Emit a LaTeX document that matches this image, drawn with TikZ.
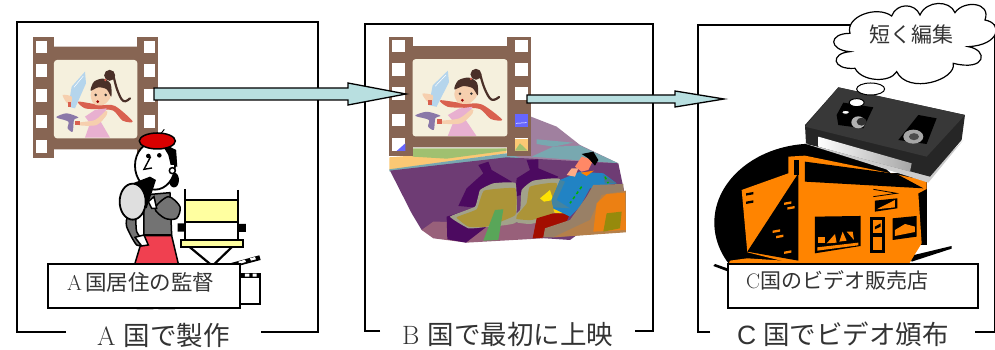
\documentclass[tikz,border=0pt]{standalone}
\usepackage{fontspec}
\newfontfamily\cjk{Noto Sans CJK JP}
\setsansfont{Liberation Sans}
\definecolor{filmbrown}{HTML}{876553}
\definecolor{cream}{HTML}{F5F0DD}
\definecolor{arrowfill}{HTML}{B8DFE0}
\definecolor{inkgrey}{HTML}{333333}
\definecolor{shoporange}{HTML}{FF8400}
\definecolor{seatgrey}{HTML}{A2A28A}
\definecolor{seatolive}{HTML}{AC9438}
\definecolor{darkpurple}{HTML}{4C0A60}
\definecolor{mainpurple}{HTML}{6E3C74}
\definecolor{mauve}{HTML}{A0809F}
\definecolor{lowmauve}{HTML}{98607A}
\definecolor{tealband}{HTML}{78A8B0}
\definecolor{bandorange}{HTML}{FBC874}
\definecolor{bandgreen}{HTML}{A0C070}
\definecolor{scarf}{HTML}{D9604F}
\definecolor{dress}{HTML}{E8B0D0}
\definecolor{skin}{HTML}{F6CFAE}
\definecolor{hairbrown}{HTML}{4A3028}
\definecolor{swordblue}{HTML}{B5D5EC}
\definecolor{hilt}{HTML}{8A78A8}
\definecolor{skirtred}{HTML}{F04050}
\definecolor{chairyellow}{HTML}{FFFFA0}
\tikzset{
  panelframe/.style={draw=black,line width=1.3pt},
  labelbox/.style={draw=black,line width=1.3pt,fill=white},
  title/.style={font=\fontsize{26.5}{26.5}\selectfont,text=inkgrey,inner sep=0pt,anchor=base west},
  boxtext/.style={text=inkgrey,inner sep=0pt,anchor=base west},
  blockarrow/.style={draw=black,line width=1.3pt,fill=arrowfill,line join=miter},
  ink/.style={draw=black,line width=1.5pt},
}
\newcommand{\smoothfill}[2]{\fill[#1] plot[smooth cycle,tension=0.5] coordinates {#2};}
\newcommand{\filmstrip}{%
  \fill[filmbrown] (100,112) rectangle (162,475);
  \fill[filmbrown] (412,112) rectangle (475,475);
  \fill[filmbrown,rounded corners=4pt] (150,140) rectangle (425,448);
  \foreach \yy/\yz in {122/158,192/230,266/305,346/384,420/458}{
    \fill[white] (108,\yy) rectangle (142,\yz);
    \fill[white] (432,\yy) rectangle (466,\yz);
  }
  \fill[cream,rounded corners=3pt] (162,180) rectangle (412,415);
  \smoothfill{scarf}{(235,305)(300,315)(345,318)(398,364)(368,362)(340,332)(300,328)(255,325)}
  \fill[dress] (255,350) -- (285,330) -- (320,325) -- (302,365) -- (330,413) -- (255,413) -- (270,370) -- cycle;
  \smoothfill{skin}{(235,368)(285,360)(318,332)(320,345)(290,375)(238,376)}
  \fill[scarf] (226,362) rectangle (240,376);
  \fill[swordblue] (205,320) -- (215,260) -- (255,215) -- (258,250) -- (225,325) -- cycle;
  \draw[white,line width=0.5pt] (222,262) -- (250,228);
  \smoothfill{skin}{(188,285)(215,290)(212,312)(200,308)}
  \fill[scarf] (203,305) rectangle (212,320);
  \smoothfill{hilt}{(170,350)(200,340)(235,352)(222,360)(218,395)(203,385)(205,365)(175,355)}
  \smoothfill{skin}{(272,285)(285,258)(320,258)(332,290)(310,315)(282,312)}
  \smoothfill{hairbrown}{(272,272)(282,245)(310,236)(332,252)(334,290)(320,268)(295,262)}
  \fill[hairbrown] (329,226) circle (5.5pt);
  \draw[hairbrown,line width=2.2pt,line cap=round] plot[smooth,tension=0.7] coordinates {(340,225)(352,270)(370,303)(390,295)};
  \fill[scarf] (316,240) circle (1.3pt);
  \fill[black!80] (287,285) circle (1.4pt) (317,285) circle (1.4pt);
  \fill[red!60!black] (293,305) circle (1.5pt);
}
\begin{document}
\begin{tikzpicture}[x=1pt,y=-1pt]
\useasboundingbox (0,0) rectangle (995,350);
\fill[white] (0,0) rectangle (995,350);
% ---- frames
\draw[panelframe] (66,332) -- (17,332) -- (17,22) -- (318,22) -- (318,332) -- (261,332);
\draw[panelframe] (380,331) -- (365,331) -- (365,24) -- (653,24) -- (653,331) -- (635,331);
\draw[panelframe] (710,332) -- (698,332) -- (698,25) -- (994.5,25) -- (994.5,332) -- (975,332);
% ---- panel A film
\begin{scope}[x=0.3333pt,y=-0.3333pt]
  \filmstrip
\end{scope}
% ---- panel B scene
\begin{scope}[xshift=340pt,x=0.3333pt,y=-0.3333pt]
  \fill[mauve] (560,345) -- (650,380) -- (720,435) -- (835,490) -- (500,480) -- (520,350) -- cycle;
  \fill[tealband] (590,418) -- (700,428) -- (640,440) -- (590,432) -- cycle;
  \fill[tealband] (575,470) -- (640,440) -- (720,437) -- (835,490) -- cycle;
  \fill[bandorange] (148,472) -- (500,445) -- (500,460) -- (148,510) -- cycle;
  \fill[bandgreen] (218,445) -- (500,445) -- (500,452) -- (320,476) -- (218,470) -- cycle;
  \fill[tealband] (148,508) -- (500,460) -- (560,480) -- (148,514) -- cycle;
  \fill[mainpurple] (150,512) -- (500,472) -- (835,490) -- (858,600) -- (690,720) -- (245,690) -- (215,640) -- cycle;
  \fill[lowmauve] (245,690) -- (280,665) -- (600,670) -- (610,715) -- (380,728) -- (280,715) -- cycle;
  \fill[darkpurple] (415,495) -- (445,485) -- (455,510) -- (515,545) -- (525,565) -- (400,622) -- (355,618) -- (380,565) -- (430,520) -- cycle;
  \fill[darkpurple] (560,480) -- (595,478) -- (595,505) -- (655,530) -- (630,560) -- (525,590) -- (530,535) -- (570,510) -- cycle;
  \fill[darkpurple] (320,650) -- (400,625) -- (440,680) -- (378,728) -- (322,718) -- cycle;
  % seats
  \fill[seatgrey] plot[smooth cycle,tension=0.25] coordinates {(505,662)(540,630)(545,570)(580,542)(660,538)(640,650)(570,672)};
  \fill[seatolive] plot[smooth cycle,tension=0.25] coordinates {(525,655)(560,610)(570,560)(650,550)(640,640)(575,660)};
  \fill[seatgrey] plot[smooth cycle,tension=0.2] coordinates {(330,650)(405,620)(420,570)(460,550)(527,550)(527,668)(430,682)(385,685)};
  \fill[seatolive] plot[smooth cycle,tension=0.2] coordinates {(350,652)(410,628)(432,572)(526,565)(526,645)(440,680)(385,680)};
  \fill[green!30!gray] (465,630) -- (490,628) -- (475,720) -- (430,722) -- cycle;
  % person
  \fill[yellow!85!orange] (600,595) -- (630,570) -- (640,600) -- (612,605) -- cycle;
  \fill[yellow!70!orange] (640,628) -- (690,630) -- (690,642) -- (645,640) -- cycle;
  \fill[red!60!black!90!orange] (578,715) -- (590,655) -- (640,640) -- (690,640) -- (680,665) -- (615,690) -- (610,713) -- cycle;
  \fill[cyan!70!blue!90!black] (635,600) -- (660,540) -- (720,515) -- (790,520) -- (830,550) -- (750,565) -- (720,620) -- (690,650) -- (640,625) -- cycle;
  \fill[cyan!60!black] (635,600) -- (660,540) -- (675,545) -- (650,600) -- (690,625) -- (640,622) -- cycle;
  \fill[cyan!50!black] (790,525) -- (830,550) -- (795,550) -- cycle;
  \draw[green!70!black,line width=1.5pt,dashed] (725,560) -- (690,610);
  \draw[green!70!black,line width=1.5pt,dashed] (795,530) -- (805,550);
  \fill[orange] (722,518) -- (762,512) -- (740,528) -- cycle;
  \fill[orange!45!red!60!white] (705,500) -- (725,470) -- (760,480) -- (745,510) -- (725,515) -- cycle;
  \fill[black] (725,462) -- (760,455) -- (775,480) -- (765,497) -- (745,475) -- cycle;
  \fill[orange!30!pink] (680,525) -- (695,505) -- (715,505) -- (705,530) -- cycle;
  % front seat
  \fill[gray!60!brown] (610,712) -- (615,685) -- (690,660) -- (740,590) -- (760,555) -- (850,552) -- (857,695) -- (640,712) -- cycle;
  \fill[brown!60!orange!60!gray] (640,712) -- (750,660) -- (785,585) -- (858,572) -- (858,697) -- cycle;
  \fill[orange!70!brown] (760,695) -- (770,610) -- (800,582) -- (855,578) -- (858,690) -- cycle;
  \fill[olive!85!brown] (800,640) -- (845,635) -- (840,685) -- (790,695) -- cycle;
\end{scope}
% ---- panel B film
\begin{scope}[xshift=351.03pt,x=0.3797pt,y=-0.3287pt]
  \filmstrip
\end{scope}
\begin{scope}[xshift=340pt,x=0.3333pt,y=-0.3333pt]
  \fill[blue!60!white] (525,342) rectangle (563,380);
  \draw[white,line width=0.5pt] (528,370) -- (560,368);
  \fill[bandorange] (525,416) rectangle (563,452);
  \fill[bandgreen] (525,452) -- (563,452) -- (540,430) -- cycle;
  \fill[blue!60!white] (196,430) -- (196,453) -- (170,453) -- cycle;
\end{scope}
% ---- panel C shop
\begin{scope}[xshift=670pt,x=0.3333pt,y=-0.3333pt]
  \fill[black] (430,668) ellipse [x radius=99pt,y radius=79pt];
  \fill[black] (500,520) rectangle (772,735);
  \fill[black] (135,792) -- (175,806) -- (175,815) -- (130,798) -- cycle;
  \fill[black] (720,768) -- (845,738) -- (845,746) -- (725,785) -- cycle;
  \fill[shoporange] (355,470) -- (405,467) -- (770,542) -- (770,567) -- (745,580) -- (755,730) -- (715,795) -- (385,795) -- (232,757) -- (215,570) -- (355,520) -- cycle;
  \fill[shoporange] (175,795) -- (180,782) -- (232,775) -- (385,785) -- (385,795) -- cycle;
  \fill[black] (385,520) -- (385,782) -- (232,755) -- cycle;
  \fill[black] (373,480) rectangle (387,525);
  \fill[black] (405,485) -- (680,522) -- (760,565) -- (405,545) -- cycle;
  \fill[black] (435,650) -- (572,648) -- (572,738) -- (435,760) -- cycle;
  \fill[shoporange] (445,712) -- (465,712) -- (465,730) -- (445,730) -- cycle;
  \fill[shoporange] (470,730) -- (495,702) -- (500,728) -- cycle;
  \fill[shoporange] (508,725) -- (518,695) -- (530,722) -- cycle;
  \fill[shoporange] (530,695) -- (548,695) -- (552,720) -- cycle;
  \fill[shoporange] (442,742) -- (565,728) -- (565,736) -- (442,752) -- cycle;
  \fill[black] (600,650) rectangle (645,760);
  \fill[shoporange] (610,660) rectangle (637,700);
  \fill[shoporange] (610,710) rectangle (637,750);
  \fill[black] (615,680) -- (632,670) -- (632,680) -- (615,688) -- cycle;
  \fill[black] (615,602) -- (682,595) -- (682,625) -- (615,635) -- cycle;
  \fill[shoporange] (620,628) -- (675,600) -- (675,622) -- cycle;
  \draw[black,line width=0.8pt] (610,568) -- (680,580) -- (610,590);
  \fill[black] (668,655) -- (740,648) -- (740,710) -- (668,720) -- cycle;
  \fill[shoporange] (675,690) -- (705,672) -- (735,680) -- (735,696) -- (675,708) -- cycle;
  \foreach \xa/\ya in {228/580,228/605}{
    \fill[black] (\xa,\ya) -- ++(22,-4) -- ++(0,7) -- ++(-22,4) -- cycle;
  }
  \foreach \xa/\ya in {342/608,352/622,308/692,318/708,342/755}{
    \fill[shoporange] (\xa,\ya) -- ++(22,-4) -- ++(0,7) -- ++(-22,4) -- cycle;
  }
  % cassette
  \fill[gray!40] (402,430) -- (775,548) -- (880,420) -- (780,520) -- cycle;
  \fill[black!85] (505,262) -- (885,345) -- (875,420) -- (780,530) -- (408,430) -- (405,375) -- cycle;
  \fill[black!78] (505,262) -- (885,345) -- (770,470) -- (405,380) -- cycle;
  \shade[left color=white,right color=gray!70] (445,410) -- (725,490) -- (720,515) -- (445,440) -- cycle;
  \fill[black] (500,345) -- (520,308) -- (610,322) -- (580,385) -- (505,375) -- cycle;
  \fill[gray!60] (565,367) ellipse [x radius=7pt,y radius=6pt];
  \fill[black!80] (575,365) ellipse [x radius=5pt,y radius=4pt];
  \fill[black] (745,345) -- (800,355) -- (770,432) -- (685,420) -- cycle;
  \fill[gray!70] (730,410) ellipse [x radius=10pt,y radius=7pt];
  \fill[black!70] (732,410) ellipse [x radius=5pt,y radius=3.5pt];
  % thought bubbles and cloud
  \draw[ink,fill=white,line width=1pt] (602,267) ellipse [x radius=14pt,y radius=6pt];
  \draw[ink,fill=white,line width=1pt] (560,308) ellipse [x radius=7.5pt,y radius=4pt];
  \draw[ink,fill=white,line width=1pt] (527,337) ellipse [x radius=4pt,y radius=2pt];
  \draw[ink,fill=white,line width=1.2pt]
    (540,155) .. controls (475,150) and (475,100) .. (540,100)
    .. controls (525,50) and (620,15) .. (665,48)
    .. controls (680,8) and (735,8) .. (750,45)
    .. controls (770,0) and (840,0) .. (855,38)
    .. controls (880,0) and (965,5) .. (945,60)
    .. controls (1000,70) and (990,135) .. (895,140)
    .. controls (955,150) and (950,215) .. (850,190)
    .. controls (860,240) and (715,285) .. (680,215)
    .. controls (660,250) and (575,245) .. (555,205)
    .. controls (485,210) and (480,160) .. (540,155) -- cycle;
\end{scope}
\node[boxtext,font=\cjk\fontsize{21}{21}\selectfont] (thoughttext) at (869,43) {短く編集};
% ---- panel A person and chair
\begin{scope}[x=0.3333pt,y=-0.3333pt]
  \draw[black,line width=2pt,fill=white] (720,830) rectangle (780,912);
  \fill[black] (720,818) rectangle (782,835);
  \fill[white] (735,821) rectangle (748,830) (758,821) rectangle (770,830);
  \fill[black] (690,790) -- (778,766) -- (782,780) -- (700,802) -- cycle;
  \fill[white] (715,785) -- (735,779) -- (738,786) -- (718,792) -- cycle;
  \fill[white] (750,775) -- (765,771) -- (768,778) -- (753,782) -- cycle;
  \draw[black,line width=2.2pt] (555,568) -- (555,720) (713,570) -- (713,720);
  \draw[black,line width=2pt,fill=chairyellow] (555,600) rectangle (713,665);
  \fill[black] (533,670) rectangle (555,695) (715,672) rectangle (738,696);
  \draw[black,line width=2pt,fill=chairyellow] (543,720) rectangle (730,741);
  \draw[black,line width=2.2pt] (570,742) -- (640,800) (695,742) -- (635,800);
  \fill[gray!45] (410,925) rectangle (460,930) (475,925) rectangle (525,930);
  \draw[ink,fill=black!55] (432,585) -- (510,578) -- (515,705) -- (432,705) -- cycle;
  \draw[ink,fill=skirtred] (430,707) -- (515,707) -- (537,800) -- (402,800) -- cycle;
  \draw[ink,fill=black!55] plot[smooth,tension=0.5] coordinates {(382,650)(380,680)(410,735)(430,725)(410,695)(408,655)};
  \draw[ink,fill=white] (405,712) -- (432,705) -- (445,735) -- (425,738) -- cycle;
  \draw[ink,fill=black!55] plot[smooth cycle,tension=0.5] coordinates {(465,625)(505,590)(540,620)(530,655)(495,655)};
  \draw[ink,fill=white] (445,605) -- (462,590) -- (470,625) -- (455,625) -- cycle;
  \fill[black] (522,540) ellipse [x radius=5pt,y radius=7.5pt];
  \fill[black] (490,430) -- (528,450) -- (532,500) -- (500,500) -- cycle;
  \draw[ink,line width=1.8pt,fill=white] (465,497) ellipse [x radius=20pt,y radius=24pt];
  \fill[black] (490,440) -- (528,450) -- (530,495) -- (512,495) -- (505,465) -- cycle;
  \draw[ink,fill=white] (517,512) circle (3pt);
  \draw[ink,fill=red!85!black] (472,423) ellipse [x radius=18pt,y radius=8pt];
  \draw[black,line width=1pt] (482,402) -- (493,388);
  \fill[black] (445,468) circle (2.3pt) (478,466) circle (2.3pt);
  \draw[black,line width=1.4pt] (452,470) -- (432,508) -- (456,504);
  \fill[black] (385,555) -- (450,530) -- (468,540) -- (440,625) -- cycle;
  \draw[ink,line width=1.8pt,fill=gray!25] (398,605) ellipse [x radius=13pt,y radius=18pt];
\end{scope}
% ---- connectors
\coordinate (filmAout) at (154,94);
\coordinate (filmBin) at (406,94);
\coordinate (filmBout) at (527,99);
\coordinate (shopIn) at (724,99);
\draw[blockarrow] (filmAout) ++(0,-6) -- ++(194,0) -- ++(0,-5) -- (filmBin) -- (348,105) -- ++(0,-5) -- ++(-194,0) -- cycle;
\draw[blockarrow] (filmBout) ++(0,-4) -- ++(148,0) -- ++(0,-4) -- (shopIn) -- (675,107) -- ++(0,-4) -- ++(-148,0) -- cycle;
% ---- label boxes
\node[labelbox,minimum width=192pt,minimum height=44pt,inner sep=0pt] (boxA) at (144,286) {};
\node[boxtext,font=\fontsize{21.5}{21.5}\selectfont] (textA) at (67,290) {A\hspace{3pt}\cjk 国居住の監督};
\node[labelbox,minimum width=250pt,minimum height=44pt,inner sep=0pt] (boxC) at (853,286) {};
\node[boxtext,font=\fontsize{21}{21}\selectfont] (textC) at (746,288) {C\cjk 国のビデオ販売店};
% ---- titles
\node[title] (titleA) at (97,345) {A\hspace{8pt}\cjk 国で製作};
\node[title] (titleB) at (402,344) {B\hspace{8pt}\cjk 国で最初に上映};
\node[title] (titleC) at (737,344) {\sffamily C\hspace{7pt}\cjk 国でビデオ頒布};
\end{tikzpicture}
\end{document}
